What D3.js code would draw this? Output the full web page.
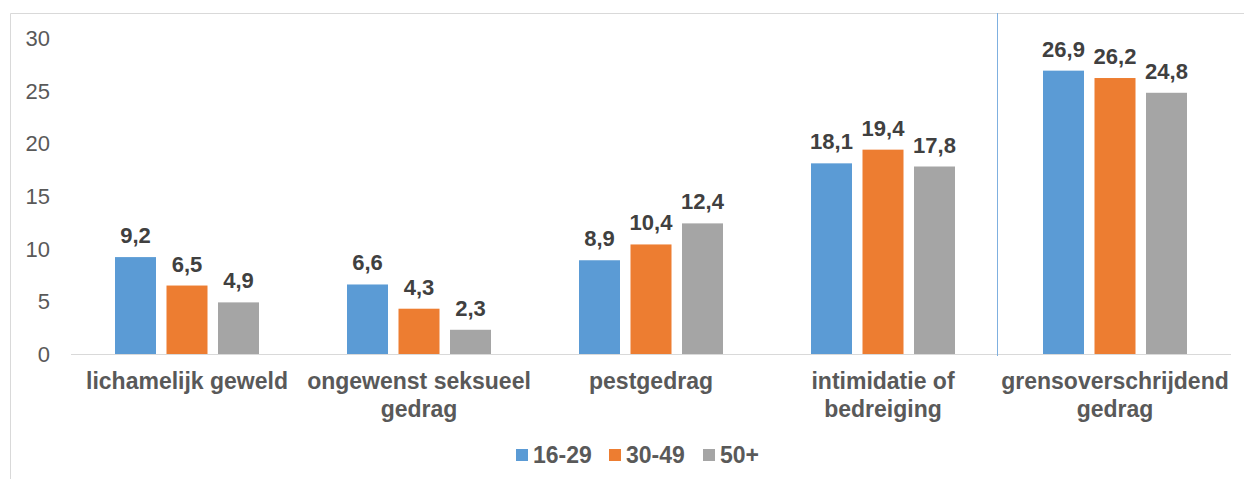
<!DOCTYPE html>
<html>
<head>
<meta charset="utf-8">
<script src="https://cdn.jsdelivr.net/npm/d3@7"></script>
<style>
  body { margin: 0; background: #fff; }
  svg text { font-family: "Liberation Sans", Arial, sans-serif; }
</style>
</head>
<body>
<svg id="chart"></svg>
<script>
// data
var categories = ["lichamelijk geweld", "ongewenst seksueel gedrag", "pestgedrag", "intimidatie of bedreiging", "grensoverschrijdend gedrag"]
var categoryLines = [["lichamelijk geweld"], ["ongewenst seksueel", "gedrag"], ["pestgedrag"], ["intimidatie of", "bedreiging"], ["grensoverschrijdend", "gedrag"]]
var seriesNames = ["16-29", "30-49", "50+"]
var values1629 = [9.2, 6.6, 8.9, 18.1, 26.9]
var values3049 = [6.5, 4.3, 10.4, 19.4, 26.2]
var values50 = [4.9, 2.3, 12.4, 17.8, 24.8]
var yTicks = [0, 5, 10, 15, 20, 25, 30]
var colors = ["#5b9bd5", "#ed7d31", "#a5a5a5"]

var width = 1244, height = 479
var margin = { top: 38, left: 71, right: 13, bottom: 125 }
var innerW = width - margin.left - margin.right
var innerH = height - margin.top - margin.bottom

var svg = d3.select("#chart").attr("width", width).attr("height", height)

// outer frame (left + top visible)
svg.append("path")
    .attr("d", "M10.5," + height + " L10.5,13.5 L" + width + ",13.5")
    .attr("fill", "none")
    .attr("stroke", "#d9d9d9")
    .attr("stroke-width", 1)

var g = svg.append("g").attr("transform", "translate(" + margin.left + "," + margin.top + ")")

var x0 = d3.scaleBand().domain(categories).range([0, innerW]).paddingInner(0).paddingOuter(0)
var y = d3.scaleLinear().domain([0, 30]).range([innerH, 0])

var barW = 41, barStep = 51.5

var rows = categories.map(function(c, i) {
    return { cat: c, vals: [values1629[i], values3049[i], values50[i]] }
})

// y tick labels
g.selectAll(".ytick").data(yTicks).enter().append("text")
    .attr("class", "ytick")
    .attr("x", -21)
    .attr("y", function(d) { return y(d) })
    .attr("dy", "0.36em")
    .attr("text-anchor", "end")
    .attr("font-size", 22)
    .attr("fill", "#595959")
    .text(function(d) { return d })

// bars
var groups = g.selectAll(".grp").data(rows).enter().append("g")
    .attr("class", "grp")
    .attr("transform", function(d) { return "translate(" + (x0(d.cat) + x0.bandwidth() / 2) + ",0)" })

groups.selectAll("rect").data(function(d) { return d.vals }).enter().append("rect")
    .attr("x", function(d, i) { return (i - 1) * barStep - barW / 2 })
    .attr("y", function(d) { return y(d) })
    .attr("width", barW)
    .attr("height", function(d) { return innerH - y(d) })
    .attr("fill", function(d, i) { return colors[i] })

groups.selectAll(".val").data(function(d) { return d.vals }).enter().append("text")
    .attr("class", "val")
    .attr("x", function(d, i) { return (i - 1) * barStep })
    .attr("y", function(d) { return y(d) - 14 })
    .attr("text-anchor", "middle")
    .attr("font-size", 22)
    .attr("font-weight", "bold")
    .attr("fill", "#404040")
    .text(function(d) { return d3.format(".1f")(d).replace(".", ",") })

// baseline
g.append("line")
    .attr("x1", 0).attr("x2", innerW)
    .attr("y1", y(0) + 0.5).attr("y2", y(0) + 0.5)
    .attr("stroke", "#d9d9d9").attr("stroke-width", 1)

// separator before last category
var sepX = Math.round(x0(categories[4])) - 1.5
svg.append("line")
    .attr("x1", margin.left + sepX).attr("x2", margin.left + sepX)
    .attr("y1", 13).attr("y2", margin.top + innerH + 2)
    .attr("stroke", "#7fb0e0").attr("stroke-width", 1)

// category labels
categoryLines.forEach(function(lines, i) {
    var cx = x0(categories[i]) + x0.bandwidth() / 2
    var t = g.append("text")
        .attr("x", cx)
        .attr("y", innerH + 35)
        .attr("text-anchor", "middle")
        .attr("font-size", 23)
        .attr("font-weight", "bold")
        .attr("fill", "#595959")
    lines.forEach(function(l, j) {
        t.append("tspan")
            .attr("x", cx)
            .attr("dy", j === 0 ? 0 : 28)
            .text(l)
    })
})

// legend
var legendX = [516, 609, 703]
var legend = svg.append("g")
seriesNames.forEach(function(s, i) {
    legend.append("rect")
        .attr("x", legendX[i]).attr("y", 449)
        .attr("width", 12).attr("height", 12)
        .attr("fill", colors[i])
    legend.append("text")
        .attr("x", legendX[i] + 17).attr("y", 463)
        .attr("font-size", 23)
        .attr("font-weight", "bold")
        .attr("fill", "#595959")
        .text(s)
})
</script>
</body>
</html>
